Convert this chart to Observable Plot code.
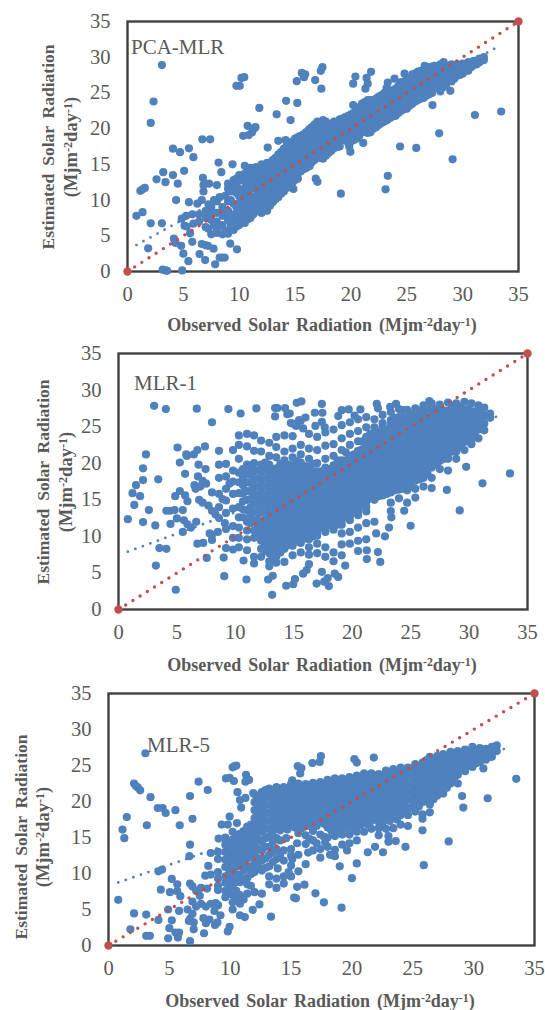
<!DOCTYPE html>
<html><head><meta charset="utf-8">
<script src="https://cdn.jsdelivr.net/npm/d3@7"></script>
<script src="https://cdn.jsdelivr.net/npm/@observablehq/plot@0.6"></script>
<style>
html,body{margin:0;padding:0;background:#fff;width:545px;height:1010px;overflow:hidden}
svg{position:absolute;left:0;background:transparent}
</style></head><body>
<script>
const ticks = [0,5,10,15,20,25,30,35];
const oneToOne = [[0,0],[35,35]];
const pcaTrend = [[0.8,3.7],[33.2,31.5]];
const mlr1Trend = [[0.8,7.9],[32.9,26.7]];
const mlr5Trend = [[0.8,8.75],[32.95,27.55]];

// scattered points, [observed, estimated]
const pcaPoints = [[3.08,28.9],[2.33,23.8],[2.08,20.8],[4.07,17.2],[4.7,16.7],[5.5,17.25],[5.9,16],[6.7,18.5],[7.4,18.5],[3.2,13.9],[4.07,13.5],[5.07,14.1],[2.6,12.9],[3.4,12.5],[4.5,12.3],[1.15,11.3],[1.35,11.5],[1.55,11.7],[4.35,10],[5.5,9.7],[0.8,7.8],[1.35,8.3],[2.08,6.75],[3.08,6.75],[1.85,3.25],[4.15,4.6],[4.3,4],[4.8,3.6],[5,2.5],[5.45,1.45],[3.15,0.25],[3.4,0.15],[3.55,0.1],[4.9,0.15],[6.45,2.45],[6.95,1.6],[7.85,1],[8.25,1.95],[8.5,1.95],[8.7,1.95],[9.8,3.1],[7.7,3.2],[6.65,3.85],[6.95,3.7],[7.2,3.6],[5.8,4.15],[5.6,5.35],[5.1,6.4],[5.3,6.3],[5.9,6.7],[4.85,7.4],[5.25,7.8],[5.8,8],[6.25,9.5],[6.65,10],[6.8,11.2],[6.8,12.1],[6.75,13.1],[7.3,12.3],[8,12.1],[8.4,13.9],[8.15,15.25],[9.4,15],[9.75,26],[10.05,26],[10.2,27.1],[10.45,27.2],[11.8,22.9],[10.35,19],[10.75,20.4],[10.85,19.1],[11.3,20],[11.45,20.2],[11.15,19.5],[13.35,22],[14.2,23.9],[15.2,23.6],[14.6,21.2],[15.15,26.65],[15.6,27.8],[15.8,27.2],[15.9,27.6],[16.8,26.8],[17.3,28.1],[17.45,28.6],[17.35,25.6],[20.2,26.3],[20.4,27.3],[21.8,27.95],[21.4,27.1],[21.3,25.6],[21.5,26.3],[23.3,26.45],[23.9,27],[20.2,23.3],[12.55,17.35],[13.5,18.3],[14.15,18.4],[33.45,22.4],[31.1,21.9],[27.9,19.35],[29.1,15.7],[25.85,17.3],[24.4,17.5],[23.3,13.4],[23.1,11.5],[19.1,10.9],[16.85,13],[17,12.55],[14.85,11.55],[16.3,14.75],[19.85,17.45],[19.95,16.75],[21.1,18],[9.2,3.9],[9,5.6],[27.3,23.3],[28.9,25.3],[23.2,25.7],[24.8,27.7],[26.6,28.8],[28.3,29.3]];
// dense cloud, each row: observed, then the estimated values read at that observed value
const pcaColumns = [[7,8.5,7.5,6.2],[7.5,9,8,7.2,5.2],[8,9.8,8.2,7,6,5.4],[8.5,9,7.8,6.5,5.2],[9,9.8,8.5,7.2,5.3,11.6,12.3],[9.5,12.8,11.8,9.5,8,7,5.8],[10,13.5,12.7,11.5,10.5,9.5,8.5,7.5,6.5],[10.5,14.8,13.7,12.7,11.7,10.7,9.7,8.7,7.7,6.8],[11,14.5,13.5,12.5,11.5,10.5,9.5,8.5,7.5],[11.5,14.6,13.6,12.6,11.6,10.6,9.6,8.6],[12,15,14,13,12,11,10,9,8.2],[12.5,15.2,14.2,13.2,12.2,11.2,10.2,9.2,8.5],[13,15.6,14.6,13.6,12.6,11.6,10.6,9.7],[13.5,16.4,15.4,14.4,13.4,12.4,11.4,10.4],[14,17.2,16.2,15.2,14.2,13.2,12.2,11.2],[14.5,18,17,16,15,14,13,12],[15,18.6,17.6,16.6,15.6,14.6,13.6,12.8],[15.5,19,18,17,16,15,14],[16,19.5,18.5,17.5,16.5,15.5,14.5],[16.5,20.2,19.2,18.2,17.2,16.2,15.3],[17,21,20,19,18,17,16],[17.5,21.2,20.3,19.3,18.3,17.3,16.3,15.8],[18,20.6,19.6,18.6,17.6,16.6],[18.5,21,20,19,18,17.3],[19,21.3,20.3,19.3,18.3,17.5],[19.5,21.6,20.6,19.6,18.6],[20,22,21,20,19,18.2],[20.5,22.6,21.6,20.6,19.6,18.6],[21,23.5,22.5,21.5,20.5,19.5],[21.5,24,23,22,21,20,19.4],[22,24,23,22,21,20],[22.5,24.5,23.5,22.5,21.5,20.5],[23,25,24,23,22,21],[23.5,25.2,24.2,23.2,22.2,21.5],[24,25.6,24.6,23.6,22.6,21.8],[24.5,26.5,25.5,24.5,23.5,22.5],[25,26.8,25.8,24.8,23.8,22.8],[25.5,27.6,26.6,25.6,24.6,23.5],[26,28,27,26,25,24],[26.5,28.2,27.2,26.2,25.2,24.3],[27,28.6,27.6,26.6,25.6,24.8],[27.5,28.8,27.8,26.8,25.8],[28,29,28,27,26,25.2],[28.5,28.8,27.8,26.8,26],[29,29,28,27.2,26.6],[29.5,29,28.2,27.4],[30,29.1,28.2,27.7],[30.5,29.3,28.6,28.1],[31,29.5,28.9],[31.5,29.8,29.3],[31.9,30,29.6]];
const pcaFill = [[6.4,8,7],[7.25,9.4,6],[7.75,10,6.5],[8.25,10.4,6.4],[8.75,10.6,8.2,5.7],[9.25,11.2,10,7.6,6.4],[9.75,13,12.2,11,9,7.3,6.3],[10.25,13,11,10,9.1,7.1],[10.75,14,13.2,12.1,11,9.1,8,7.3],[11.25,14,13,12,10,9,8],[11.75,14.2,13.1,12.1,11,10.1,9.1,8.4],[12.25,14.5,13.5,12.6,11.5,10.5,9.5,8.6],[12.75,15,14,13,12,11,10,9.2],[13.25,15.9,15,14,13,12,11,10.1],[13.75,16.7,15.8,14.8,13.8,12.8,11.8,10.9],[14.25,17.6,16.7,15.7,14.7,13.7,12.7,11.7],[14.75,18.2,17.3,16.3,15.3,14.3,13.3,12.4],[15.25,18.8,17.8,16.8,15.8,14.8,13.8,13],[15.75,19.2,18.3,17.3,16.3,15.3,14.3],[16.25,19.9,18.9,17.9,16.9,15.9,14.9],[16.75,20.6,19.6,18.6,17.6,16.6,15.6],[17.25,20.7,19.7,18.7,17.7,16.7,15.9],[17.75,21,20,19,18,17,16.2],[18.25,20.7,19.7,18.7,17.7,16.9],[18.75,21,20,19,18,17.4],[19.25,21.4,20.4,19.4,18.4],[19.75,21.8,20.8,19.8,18.8,18],[20.25,22.2,21.2,20.2,19.2,18.4],[20.75,23,22,21,20,19],[21.25,23.7,22.7,21.7,20.7,19.7],[21.75,24,23,22,21,20,19.5],[22.25,24.2,23.2,22.2,21.2,20.2],[22.75,24.7,23.7,22.7,21.7,20.8],[23.25,25,24,23,22,21.2],[23.75,25.4,24.4,23.4,22.4,21.7],[24.25,26,25,24,23,22.2],[24.75,26.6,25.6,24.6,23.6,22.7],[25.25,27,26,25,24,23.2],[25.75,27.7,26.7,25.7,24.7,23.8],[26.25,28.1,27.1,26.1,25.1,24.2],[26.75,28.3,27.3,26.3,25.3,24.6],[27.25,28.7,27.7,26.7,25.7,25],[27.75,28.7,27.7,26.7,25.7],[28.25,28.7,27.7,26.7,25.8],[28.75,28.6,27.6,26.8],[29.25,28.6,27.8,27],[29.75,28.7,28,27.5],[30.25,28.9,28.2],[30.75,29.2,28.6],[31.25,29.5,29]];

const mlr1Points = [[0.8,12.35],[1.2,15.9],[1.35,14.3],[1.5,17],[1.85,15.5],[2.1,17.7],[2.1,19.3],[2.35,21.2],[2.1,11.95],[2.6,13.6],[3.15,11.5],[3.2,6],[3.4,17.8],[3.5,8.4],[4.1,8.3],[4.9,2.7],[3.05,27.85],[4.05,27.4],[6.7,27.45],[9.4,27.4],[10.45,26.8],[11.8,27.5],[8,25.6],[5.05,22.15],[5.8,21.2],[5.85,21],[6.45,21.2],[6.75,21.8],[7.4,22.3],[5.25,20.1],[6.85,19.8],[7.45,19.2],[5.7,18.55],[5.25,16.2],[4.85,15.5],[5.7,15.6],[5.9,14.8],[4.1,13.5],[4.4,13.5],[4.8,13.6],[5.5,13.6],[5,12.45],[4.45,11.7],[5.6,12.2],[5.9,11.65],[6.2,11.2],[6.65,12],[5.5,10.6],[6.75,9],[7.25,9.1],[7.55,7.05],[9,7.1],[9.05,4.55],[10.95,4.1],[10.7,6.7],[12.8,4.1],[13.2,4.6],[13.15,2],[14.35,3.25],[14.95,3.45],[15.1,4.15],[16.95,3.55],[17.6,3.8],[18,3.2],[17.9,4.3],[18.5,4.9],[18.8,4.45],[17.4,5.15],[15.8,4.9],[16.1,5.4],[19.4,6],[21.25,6.9],[22.4,6.5],[21.25,8.1],[22.2,7.85],[22.05,10.4],[22.8,10],[23.15,11.2],[25,11.45],[23.35,12.6],[23.3,13.45],[24.45,13.5],[29.2,13.55],[28.1,16.35],[29.75,19.5],[31.15,17.25],[33.5,18.6],[13.4,27.55],[13.6,27.55],[13.4,26.4],[14.25,27.55],[14.45,26.7],[14.65,26.8],[14.75,25.5],[15.2,25.1],[15.45,25.9],[15.8,24.75],[16,26.25],[15.25,28.25],[15.65,28.45],[16.8,26.9],[17.4,28.1],[17.45,26.9],[16.85,25.1],[17.4,25.65],[17.65,24.9],[18.8,26.45],[19.1,27.25],[19.7,27.35],[20.7,27.35],[20.2,26.5],[22.1,28.1],[22.2,27.5],[23.25,27.7],[23.75,28.1],[24.35,27.25],[26.6,28.5],[6.5,17],[6.8,18.2],[7.2,17.6],[7.5,17.2],[6.9,15],[7.2,14.6],[7.7,14.2],[6.6,16.5],[7,16.8],[8.3,13],[8.9,15.1],[9.5,17.2],[9.1,11.8],[8.5,10.6],[7.8,10.4]];
const mlr1Columns = [[8,16,13.5,10.2,9.5],[8.6,18,15.8,14,12.5,19.8,21.7],[9.2,18.2,16.5,14.9,13.2,11,8.4,19.9],[9.8,17.5,15.8,13.8,11.4,9.8,8.2,21.8,19],[10.3,23.8,22.5,20.6,18.7,17.4,15.9,14,12.6,11.2,9.8,8.5],[11,24,22.3,19.8,18.6,17.4,16.2,15,13.6,12,10.8,9.6,8.1],[11.6,23.8,21.7,20,18.9,17.8,16.7,15.6,14.5,13.4,12,10.8,9.8,7.2,6.3],[12.2,23.1,21.6,19.8,18.8,17.7,16.6,15.5,14.4,13.3,11.6,10.5,9.4,8.3,7.2],[12.9,22.8,21,19.8,18.7,17.6,16.5,15.4,14.3,13.2,12.1,11,9.9,8.8,7.7,6.6,5.9],[13.5,23.6,22.2,20.8,19.3,18.2,17.1,16,14.9,13.8,12.7,11.6,10.5,9.4,8.3,7.2,6.4],[14.2,23.8,21.6,20.4,19.3,18.2,17.1,16,14.9,13.8,12.7,11.6,10.5,9.4,8.3,6.5],[14.9,25.4,23.7,22,20.8,19.7,18.6,17.5,16.4,15.3,14.2,13.1,12,10.9,9.8,8.7,7.4],[15.6,25.8,22.5,21.2,20.1,19,17.9,16.8,15.7,14.6,13.5,12.4,11.3,10.2,9.1,7.8],[16.3,24,22,20.6,19.5,18.4,17.3,16.2,15.1,14,12.9,11.8,10.7,9.6,8.5,7.5,6.2],[17,23.6,21.8,20,18.9,17.8,16.7,15.6,14.5,13.4,12.3,11.2,10.1,9,7.7],[17.7,24.2,22.4,20.6,19.4,18.3,17.2,16.1,15,13.9,12.8,11.7,10.6,8.5,7.2],[18.4,24.6,22.6,21,19.7,18.6,17.5,16.4,15.3,14.2,13.1,12,10.9,7.8,6.6],[19.1,25.2,23.4,21.8,20.4,19.3,18.2,17.1,16,14.9,13.8,12.7,11.6,10.4,8.9,7.4],[19.8,25.6,24,22.5,21,19.9,18.8,17.7,16.6,15.5,14.4,13.3,12.2,10.6,9],[20.5,26,24.4,23,21.7,20.6,19.5,18.4,17.3,16.2,15.1,14,12.9,11.2,9.4,8],[21.2,26.3,24.9,23.6,22.4,21.3,20.2,19.1,18,16.9,15.8,14.7,13.4,11.8,9.6],[21.9,26,24.9,23.8,22.7,21.6,20.5,19.4,18.3,17.2,16.1,15,12],[22.6,26.6,25.5,24.4,23.3,22.2,21.1,20,18.9,17.8,16.7,15.6],[23.3,27,25.9,24.8,23.7,22.6,21.5,20.4,19.3,18.2,17.1,16,14.6],[24,27.4,26.3,25.2,24.1,23,21.9,20.8,19.7,18.6,17.5,16.4,15.2],[24.7,27.3,26.2,25.1,24,22.9,21.8,20.7,19.6,18.5,17.4,16.3,14.6],[25.4,27.5,26.4,25.3,24.2,23.1,22,20.9,19.8,18.7,17.6,16.5,15.3],[26.1,27.9,26.8,25.7,24.6,23.5,22.4,21.3,20.2,19.1,18,16.8],[26.8,28.2,27.1,26,24.9,23.8,22.7,21.6,20.5,19.4,18,16.6],[27.5,28,26.9,25.8,24.7,23.6,22.5,21.4,20.3,19.2],[28.2,28.3,27.2,26.1,25,23.9,22.8,21.7,20.6,19],[28.9,28.2,27.1,26,24.9,23.8,22.7,21.6,20.6],[29.6,28.4,27.3,26.2,25.1,24,22.9,21.8],[30.2,28.2,27.1,26,24.9,23.8,22.6],[30.8,27.9,26.8,25.7,24.6,23.4],[31.3,27.6,26.5,25.4,24.5],[31.8,26.8,26.2]];
const mlr1Fill = [[10.65,12.6,13.7,14.8,15.9,17,18.1,19.2],[11.3,11.8,12.9,14,15.1,16.2,17.3,18.4,19.5],[11.9,10.2,11.3,12.4,13.5,14.6,15.7,16.8,17.9,19],[12.55,8,9.1,10.2,11.3,12.4,13.5,14.6,15.7,16.8,17.9,19,20.1],[13.2,7,8.1,9.2,10.3,11.4,12.5,13.6,14.7,15.8,16.9,18,19.1],[13.85,7.8,8.9,10,11.1,12.2,13.3,14.4,15.5,16.6,17.7,18.8,19.9],[14.55,8.8,9.9,11,12.1,13.2,14.3,15.4,16.5,17.6,18.7,19.8],[15.25,9.3,10.4,11.5,12.6,13.7,14.8,15.9,17,18.1,19.2,20.3],[15.95,9.7,10.8,11.9,13,14.1,15.2,16.3,17.4,18.5,19.6],[16.65,10,11.1,12.2,13.3,14.4,15.5,16.6,17.7,18.8,19.9],[17.35,11.2,12.3,13.4,14.5,15.6,16.7,17.8,18.9],[18.05,11.5,12.6,13.7,14.8,15.9,17,18.1,19.2],[18.75,11.6,12.7,13.8,14.9,16,17.1,18.2,19.3,20.4],[19.45,12.7,13.8,14.9,16,17.1,18.2,19.3,20.4,21.5],[20.15,13.5,14.6,15.7,16.8,17.9,19,20.1,21.2],[20.85,14.2,15.3,16.4,17.5,18.6,19.7,20.8,21.9,23],[21.55,15.2,16.3,17.4,18.5,19.6,20.7,21.8,22.9,24],[22.25,15.5,16.6,17.7,18.8,19.9,21,22.1,23.2,24.3],[22.95,15.8,16.9,18,19.1,20.2,21.3,22.4,23.5,24.6],[23.65,16.3,17.4,18.5,19.6,20.7,21.8,22.9,24,25.1,26.2],[24.35,16.5,17.6,18.7,19.8,20.9,22,23.1,24.2,25.3,26.3],[25.05,16.8,17.9,19,20.1,21.2,22.3,23.4,24.5,25.6,26.7],[25.75,17.8,18.9,20,21.1,22.2,23.3,24.4,25.5,26.6,27.2],[26.45,18.5,19.6,20.7,21.8,22.9,24,25.1,26.2,27.4],[27.15,19.8,20.9,22,23.1,24.2,25.3,26.4,27.4],[27.85,20.6,21.7,22.8,23.9,25,26.1,27.2],[28.55,21.6,22.7,23.8,24.9,26,27.1,27.8],[29.25,22.2,23.3,24.4,25.5,26.6,27.7],[29.9,23,24.1,25.2,26.3,27.4],[30.5,23.8,24.9,26,27.1],[31.05,24.9,26,27.1]];
const mlr1Extra = [[12.9,19.25,18.15,17.05,15.95,14.85,13.75,12.65,11.55,10.45,9.35,8.25],[13.5,18.75,17.65,16.55,15.45,14.35,13.25,12.15,11.05,9.95,8.85,7.75],[14.2,18.75,17.65,16.55,15.45,14.35,13.25,12.15,11.05,9.95,8.85],[14.9,19.15,18.05,16.95,15.85,14.75,13.65,12.55,11.45,10.35,9.25],[15.6,19.55,18.45,17.35,16.25,15.15,14.05,12.95,11.85,10.75,9.65],[16.3,18.95,17.85,16.75,15.65,14.55,13.45,12.35,11.25,10.15],[17,18.35,17.25,16.15,15.05,13.95,12.85,11.75,10.65],[17.7,18.85,17.75,16.65,15.55,14.45,13.35,12.25,11.15],[18.4,19.15,18.05,16.95,15.85,14.75,13.65,12.55,11.45],[19.1,19.85,18.75,17.65,16.55,15.45,14.35,13.25,12.15],[19.8,20.45,19.35,18.25,17.15,16.05,14.95,13.85,12.75],[20.5,21.15,20.05,18.95,17.85,16.75,15.65,14.55,13.45],[21.2,21.85,20.75,19.65,18.55,17.45,16.35,15.25,14.05],[21.9,23.25,22.15,21.05,19.95,18.85,17.75,16.65,15.55],[22.6,24.95,23.85,22.75,21.65,20.55,19.45,18.35,17.25,16.15],[23.3,25.35,24.25,23.15,22.05,20.95,19.85,18.75,17.65,16.55],[24,25.75,24.65,23.55,22.45,21.35,20.25,19.15,18.05,16.95],[24.7,25.65,24.55,23.45,22.35,21.25,20.15,19.05,17.95,16.85],[25.4,25.85,24.75,23.65,22.55,21.45,20.35,19.25,18.15],[26.1,26.25,25.15,24.05,22.95,21.85,20.75,19.65,18.55],[26.8,26.55,25.45,24.35,23.25,22.15,21.05,19.95],[27.5,26.35,25.25,24.15,23.05,21.95,20.85],[28.2,26.65,25.55,24.45,23.35,22.25,21.15],[28.9,26.55,25.45,24.35,23.25,22.15],[29.6,26.75,25.65,24.55,23.45],[30.2,26.55,25.45,24.35,23.2]];

const mlr5Points = [[3.03,26.7],[2.1,22.5],[2.25,22.15],[2.4,21.95],[2.6,21.55],[3.45,20.6],[4.05,19.1],[4.45,19.1],[4.7,18.4],[5.5,18.8],[7.4,22.75],[8.15,21.6],[6.7,20.75],[6.9,17.6],[5.85,16.7],[3.15,16.7],[1.5,17.85],[1.15,16.1],[1.3,14.9],[6.7,14],[6.65,12.4],[0.8,6.35],[2.1,4.45],[3.1,4.3],[1.8,2.25],[3.1,1.35],[3.4,1.35],[4.1,3.55],[4.3,7.75],[4.1,10.3],[4.4,10.55],[5.2,9.25],[5.05,7.4],[5.65,8.5],[5.65,7.55],[5.9,6.85],[4.9,5],[5.8,4.8],[5.2,3.5],[5,2.4],[4.9,1],[5.5,1.8],[5.8,1.8],[5.7,1.1],[6.7,0.6],[7,2.25],[7.85,1.7],[9.8,1.95],[9.95,2.6],[8.75,2.85],[8.95,3.2],[13.35,4],[11.2,3.95],[11.85,4.95],[12.4,5.7],[19.15,5.25],[17.7,6],[17,7.25],[15.4,6.55],[15.25,6.65],[16.1,8.45],[15.5,8.15],[20,9.35],[20.4,11.4],[19,11],[25.9,11.15],[22.55,12.95],[21.3,12.95],[21.9,13.7],[24.4,13.7],[27.95,14.45],[25.8,16],[29.15,19.15],[29.05,20.75],[31.15,20.45],[33.5,23.15],[30.8,24.6],[9.65,23.2],[9.95,23.3],[10.3,22.85],[10.2,24.75],[10.5,25],[10.35,24.9],[11.3,23.7],[11.55,23],[11.25,22.75],[10.6,21.3],[10.8,20.2],[10.9,19.15],[11.25,20.5],[11.9,21.15],[15.1,22.95],[15.55,24.9],[15.85,24.65],[15.75,23.9],[16.75,25.35],[17.35,25.5],[17.45,26.3],[20.2,25.9],[20.4,25.4],[21.8,26.1],[9.95,17.9],[9.3,16.8],[9.8,16.8],[9.05,14.85],[9.65,14.7],[8.4,12.85],[8.2,11.05],[7.95,9.7],[8.4,9.85],[10.55,17],[6.7,8.6],[6.9,8.2],[7.2,7.6],[7.6,8],[6.5,5],[6.7,3.7],[7,3.2],[6.6,3.4],[6.9,4.4],[7.2,5.4],[7.6,5.8],[8,5.4],[7.8,3.8],[8,3.1],[8.3,3.6],[8.7,4.8],[9,5.6],[9.2,4.2],[8.4,5.8],[8.8,5.9],[7.5,6.9],[6.9,6.1],[8.1,7.9],[23.6,14.5],[23,15.2],[22.2,15.3],[23,14.4],[14.6,14.9],[15.5,14.2],[16.4,12.9],[13.9,10.7],[14.8,10.2],[15.1,12],[18.2,12.6],[17.8,14.3],[19.6,13.2]];
const mlr5Columns = [[9,13,12,10.2,9.3,8.3,7.7],[9.6,15,14,13,11.9,10.9,9.6,8.7,7.6,6.7],[10.2,15.8,14.7,13.6,12.5,11.4,10.4,9.3,8.2,7,6,5],[10.8,15.5,14.4,13.3,12.2,11.1,9.8,8.8,7,5.8,4.2],[11.4,16.5,15.4,14.3,13.2,12.1,10.8,9.4,8.5,7.2],[12,21,19.9,18.8,17.7,16.6,15.4,14,12.8,11.5,10.2,7.4],[12.6,21.3,20.2,19.1,18,16.9,15.8,14.4,13.2,11.8,10.4,7.2],[13.2,21.8,20.7,19.6,18.5,17.4,16.3,15.2,13.7,12.6,11,9.6,8.5],[13.8,22,20.9,19.8,18.7,17.6,16.5,14.9,13.4,12,9.3,8],[14.4,22,20.9,19.8,18.7,17.6,16.4,13.2,11.8,9.6,8.6],[15,22.4,21.3,20.2,19.1,18,16.9,13.4,12.5,11.1,9.6],[15.6,22.5,21.4,20.3,19.2,18.1,17,15.6,12.6,10.3],[16.2,22.4,21.3,20.2,19.1,18,16.9,15.3,14.1,11.3],[16.8,22.6,21.5,20.4,19.3,18.2,17.3,15.9,14.6,13.2],[17.4,22.7,21.6,20.5,19.4,18.3,17.2,15.4,13.4,12.2],[18,23,21.9,20.8,19.7,18.6,17.5,16.4,15,13.7],[18.6,23.2,22.1,21,19.9,18.8,17.7,16.6,15.2,13.3,12.4],[19.2,23.2,22.1,21,19.9,18.8,17.7,16.6,15.4,14],[19.8,23.4,22.3,21.2,20.1,19,17.9,16.8,15.4,14.2],[20.4,23.6,22.5,21.4,20.3,19.2,18.1,17,15.8,14.6],[21,23.9,22.8,21.7,20.6,19.5,18.4,17.3,15.8],[21.6,23.9,22.8,21.7,20.6,19.5,18.4,17.3,16.2],[22.2,23.8,22.7,21.6,20.5,19.4,18.3,17.2,16.3],[22.8,24.3,23.2,22.1,21,19.9,18.8,17.7,16.2],[23.4,24.5,23.4,22.3,21.2,20.1,19,17.9,16.3],[24,24.7,23.6,22.5,21.4,20.3,19.2,18.1,16.8],[24.6,24.7,23.6,22.5,21.4,20.3,19.2,18.1,16.6],[25.2,25.2,24.1,23,21.9,20.8,19.7,18.6],[25.8,25.4,24.3,23.2,22.1,21,19.9,18.2,17.6],[26.4,26.2,25.1,24,22.9,21.8,20.7,19.6,18.5],[27,26.3,25.2,24.1,23,21.9,20.8],[27.5,26.6,25.5,24.4,23.3,22.2,21.1],[28.1,26.9,25.8,24.7,23.6,22.5],[28.7,27,25.9,24.8,23.7,22.5],[29.3,27.2,26.1,25,24.2],[29.9,27.6,26.6,25.6,24.8],[30.5,27.4,26.4,25.5],[31,27.3,26.4,25.8],[31.5,27.6,26.8,26.2],[31.9,27.8,27]];
const mlr5Fill = [[9.9,14.4,13.3,12.2,11.2,10,9,8,7.2],[10.5,15.2,14.1,13,12,10.9,9.8,8.8,7.6,6.6],[11.1,15.9,14.8,13.8,12.7,11.6,10.4,9.2,6.4],[11.7,16.8,15.7,14.6,13.5,12.4,11,9.9,8.3],[12.3,20.4,19.3,18.2,17.2,16,14.8,13.4,12.1,10.9],[12.9,21.6,20.6,19.5,18.4,17.3,16.2,14.9,13.7,12.1,10.8],[13.5,21.3,20.2,19.1,18,16.9,15.8,14.4,13,11.6],[14.1,21.5,20.4,19.3,18.2,17.1,16,14.6,12.6],[14.7,21.6,20.5,19.4,18.3,17.2,16.1],[15.3,21.9,20.8,19.7,18.6,17.5,16.4],[15.9,21.9,20.8,19.7,18.6,17.5,16.3],[16.5,22,20.9,19.8,18.7,17.6,16.6,14.8],[17.1,22.2,21.1,20,18.9,17.8,16.6,14.2],[17.7,22.3,21.2,20.1,19,17.9,16.9,15.1],[18.3,22.6,21.5,20.4,19.3,18.2,17.1,16],[18.9,22.7,21.6,20.5,19.4,18.3,17.2,15.9],[19.5,22.9,21.8,20.7,19.6,18.5,17.4,16.3],[20.1,23,21.9,20.8,19.7,18.6,17.5,16.2],[20.7,23.3,22.2,21.1,20,18.9,17.8,16.7],[21.3,23.3,22.2,21.1,20,18.9,17.8,16.8],[21.9,23.4,22.3,21.2,20.1,19,17.9],[22.5,23.6,22.5,21.4,20.3,19.2,18.1,17],[23.1,23.9,22.8,21.7,20.6,19.5,18.4,17.3],[23.7,24.1,23,21.9,20.8,19.7,18.6,17.5],[24.3,24.2,23.1,22,20.9,19.8,18.7],[24.9,24.6,23.5,22.4,21.3,20.2,19.1],[25.5,24.8,23.7,22.6,21.5,20.4,19.3],[26.1,25.7,24.6,23.5,22.4,21.3,20.2],[26.7,25.8,24.7,23.6,22.5,21.4,20.3],[27.25,26,24.9,23.8,22.7,21.6],[27.8,26.3,25.2,24.1,23,21.9],[28.4,26.5,25.4,24.3,23.2],[29,26.7,25.6,24.5],[29.6,27,26,25],[30.2,27,26,25.3],[30.75,26.9,26],[31.25,27,26.2]];

const blue = "#4f81bd", red = "#c0504d", gray = "#595959", serif = "'Liberation Serif','Times New Roman',serif";
const expand = cols => cols.flatMap(([x, ...ys]) => ys.map(y => [x, y]));

function panel(cfg) {
  const pts = cfg.points.concat(expand(cfg.columns), expand(cfg.fill));
  const svg = Plot.plot({
    width: 545, height: cfg.height,
    marginLeft: cfg.x0, marginRight: 545 - cfg.x35,
    marginTop: cfg.yTop, marginBottom: cfg.height - cfg.yBottom,
    style: {fontFamily: serif, background: "transparent", overflow: "visible"},
    x: {domain: [0, 35], label: null},
    y: {domain: [0, 35], label: null},
    marks: [
      Plot.frame({stroke: "#404040", strokeWidth: 2.4}),
      Plot.axisX({ticks, tickSize: 0, tickPadding: cfg.xPad, fontSize: 20.5, fill: gray, label: null, anchor: "bottom"}),
      Plot.axisY({ticks, tickSize: 0, tickPadding: cfg.yPad, fontSize: 20.5, fill: gray, label: null, anchor: "left"}),
      Plot.dot(pts, {x: d => d[0], y: d => d[1], r: 4.1, fill: blue, stroke: "none"}),
      Plot.line(cfg.trend, {x: d => d[0], y: d => d[1], stroke: blue, strokeWidth: 2.8, strokeDasharray: "0 8", strokeLinecap: "round"}),
      Plot.line(oneToOne, {x: d => d[0], y: d => d[1], stroke: red, strokeWidth: 3.4, strokeDasharray: "0 8.5", strokeLinecap: "round"}),
      Plot.dot(oneToOne, {x: d => d[0], y: d => d[1], r: 4.2, fill: red, stroke: "none"})
    ]
  });
  svg.style.top = cfg.top + "px";
  const s = d3.select(svg);
  const sup = (t, a, b) => {
    t.append("tspan").text(a);
    t.append("tspan").attr("font-size", "0.66em").attr("dy", "-0.42em").text("-2");
    t.append("tspan").attr("dy", "0.28em").text("day");
    t.append("tspan").attr("font-size", "0.66em").attr("dy", "-0.42em").text("-1");
    t.append("tspan").attr("dy", "0.28em").text(b);
  };
  const boldText = (x, y, rot, size) => s.append("text")
    .attr("text-anchor", "middle").attr("font-family", serif).attr("font-weight", "bold")
    .attr("font-size", size).attr("fill", gray)
    .attr("transform", `translate(${x},${y})` + (rot ? " rotate(-90)" : ""));
  sup(boldText(cfg.xLabel[0], cfg.xLabel[1], false, 18).attr("word-spacing", 2.5), "Observed Solar Radiation (Mjm", ")");
  boldText(cfg.yLabel1[0], cfg.yLabel1[1], true, 17.5).attr("word-spacing", 3.5).text("Estimated Solar Radiation");
  sup(boldText(cfg.yLabel2[0], cfg.yLabel2[1], true, 18.5), "(Mjm", ")");
  s.append("text").attr("text-anchor", "start").attr("x", cfg.name[1]).attr("y", cfg.name[2]).attr("font-family", serif)
    .attr("font-size", 21).attr("fill", gray).text(cfg.name[0]);
  document.body.appendChild(svg);
}

panel({top: 0, height: 340, x0: 127, x35: 518, yTop: 21, yBottom: 271, xPad: 15, yPad: 17,
  points: pcaPoints, columns: pcaColumns, fill: pcaFill, trend: pcaTrend,
  name: ["PCA-MLR", 131, 54], xLabel: [322, 331], yLabel1: [54, 147], yLabel2: [77, 147]});
panel({top: 340, height: 335, x0: 118, x35: 527, yTop: 13, yBottom: 269, xPad: 15, yPad: 17,
  points: mlr1Points, columns: mlr1Columns, fill: mlr1Fill.concat(mlr1Extra), trend: mlr1Trend,
  name: ["MLR-1", 134, 50], xLabel: [322, 331], yLabel1: [49, 142], yLabel2: [72, 142]});
panel({top: 675, height: 335, x0: 108, x35: 534, yTop: 18, yBottom: 270, xPad: 15, yPad: 17,
  points: mlr5Points, columns: mlr5Columns, fill: mlr5Fill, trend: mlr5Trend,
  name: ["MLR-5", 147, 77], xLabel: [320, 332], yLabel1: [27, 162], yLabel2: [49, 162]});
</script>
</body></html>
